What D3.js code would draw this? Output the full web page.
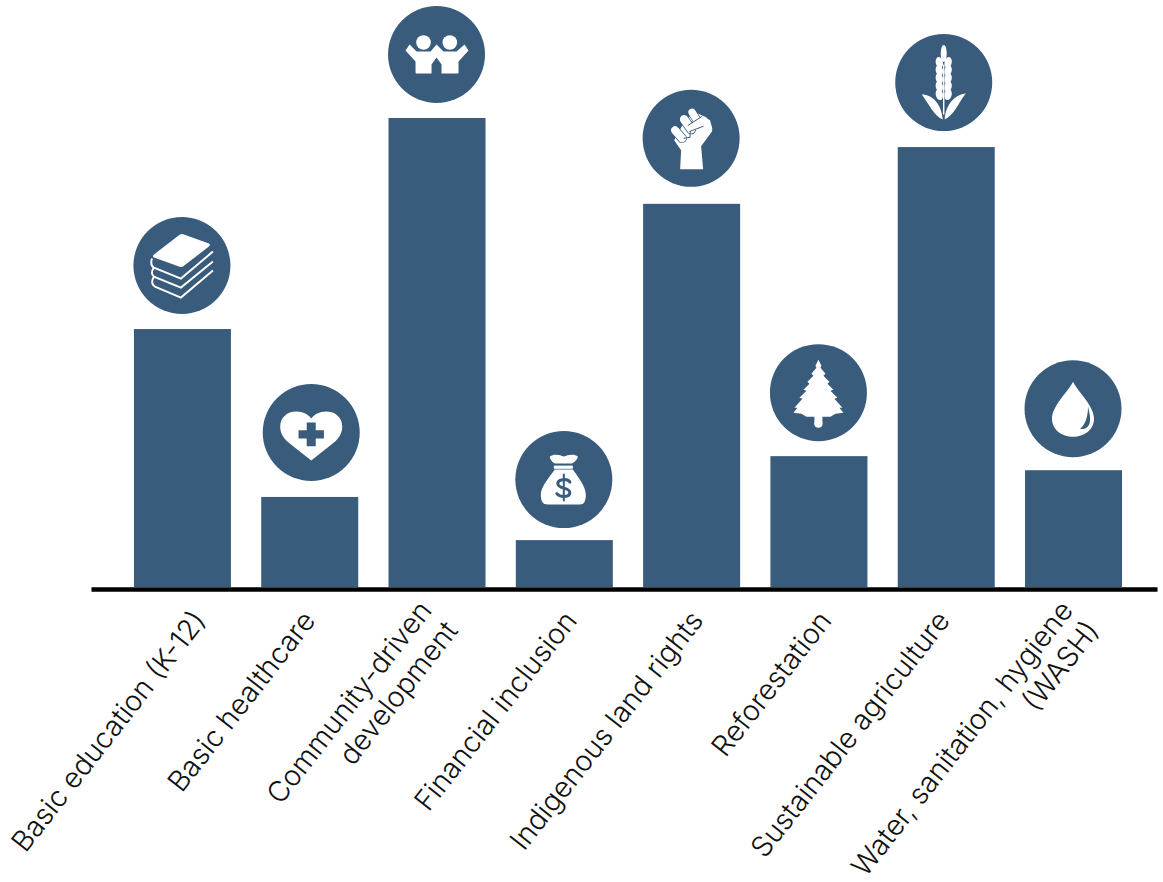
<!DOCTYPE html>
<html>
<head>
<meta charset="utf-8">
<script src="https://cdn.jsdelivr.net/npm/d3@7"></script>
<style>
  html, body { margin: 0; background: #fff; }
  svg { display: block; }
</style>
</head>
<body>
<svg id="chart" width="1163" height="882"></svg>
<script>
const categories = [
  "Basic education (K-12)",
  "Basic healthcare",
  "Community-driven development",
  "Financial inclusion",
  "Indigenous land rights",
  "Reforestation",
  "Sustainable agriculture",
  "Water, sanitation, hygiene (WASH)",
];
// no value axis in the source, so values are relative to the tallest bar
const values = [55, 19.2, 100, 10, 81.7, 27.9, 93.8, 24.9];
const iconNames = ["books", "heart", "people", "money", "fist", "tree", "wheat", "drop"];
const labelLines = [
  ["Basic education (K-12)"],
  ["Basic healthcare"],
  ["Community-driven", "development"],
  ["Financial inclusion"],
  ["Indigenous land rights"],
  ["Reforestation"],
  ["Sustainable agriculture"],
  ["Water, sanitation, hygiene", "(WASH)"],
];

const barColor = "#395c7c";
const iconRadius = 48.5;
const iconGaps = { books: 15, heart: 16, people: 15, money: 12, fist: 17, tree: 15, wheat: 16, drop: 13 };
const iconNudge = { books: -0.5, heart: 1.5, people: -0.5, money: -0.5, fist: -0.5, tree: -0.5, wheat: -2.5, drop: -0.5 };
const labelNudge = [25, 7, 9, 14, 13, 14, 5, 14];
const labelAngle = -52;
const labelSize = 28.5;
const lineHeight = 33;

const svg = d3.select("#chart");

const x = d3.scaleBand()
  .domain(categories)
  .range([91, 1157])
  .paddingInner(0.238)
  .paddingOuter(0.306)
  .align(0.551);

const y = d3.scaleLinear().domain([0, 100]).range([587, 118]);

const rows = categories.map((category, i) => ({
  category,
  value: values[i],
  icon: iconNames[i],
  lines: labelLines[i],
  nudge: labelNudge[i],
}));

svg.append("g")
  .selectAll("rect")
  .data(rows)
  .join("rect")
  .attr("x", (d) => x(d.category))
  .attr("y", (d) => y(d.value))
  .attr("width", x.bandwidth())
  .attr("height", (d) => y(0) - y(d.value))
  .attr("fill", barColor);

// axis
const axis = svg.append("g")
  .attr("transform", `translate(0,${y(0) + 2})`)
  .call(d3.axisBottom(x).tickSize(0).tickPadding(0));

axis.select(".domain").attr("stroke", "#000").attr("stroke-width", 4.5);

axis.selectAll(".tick text").each(function (category) {
  const row = rows.find((d) => d.category === category);
  const shift = (row.lines.length - 1) * lineHeight / 2;
  const label = d3.select(this)
    .text(null)
    .attr("text-anchor", "end")
    .attr("fill", "#111")
    .attr("font-family", "Inter, 'Noto Sans', sans-serif")
    .attr("font-weight", 300)
    .attr("font-size", labelSize)
    .attr("dy", null)
    .attr("y", null)
    .attr("transform", `translate(${row.nudge},32) rotate(${labelAngle})`);
  label.selectAll("tspan")
    .data(row.lines)
    .join("tspan")
    .attr("x", 0)
    .attr("y", (_, i) => i * lineHeight - shift)
    .text((d) => d);
});

// icons are drawn around the circle centre
function whitePath(g, d) {
  return g.append("path").attr("d", d).attr("fill", "#fff");
}
function bluePath(g, d, width) {
  return g.append("path").attr("d", d)
    .attr("fill", "none")
    .attr("stroke", barColor)
    .attr("stroke-width", width)
    .attr("stroke-linecap", "round");
}
function finger(g, d, width) {
  bluePath(g, d, width + 1.4);
  bluePath(g, d, width).attr("stroke", "#fff");
}

const drawIcon = {
  books(g) {
    g.append("path")
      .attr("d", "M-2,-31 Q0,-32 2,-31 L27,-22 Q29,-21 27,-19 L1,1 Q-1,2 -3,1 L-28,-8 Q-30,-9 -28,-11 Z")
      .attr("fill", "#fff");
    g.append("path")
      .attr("d", "M31,-14 L-1,13 L-28,2 Q-32,0 -30,-7 M31,-4 L-1,22 L-28,11 Q-32,8 -28,2 M31,5 L-1,32 L-27,21 Q-32,18 -28,11")
      .attr("fill", "none")
      .attr("stroke", "#fff")
      .attr("stroke-width", 1.9);
  },
  heart(g) {
    whitePath(g, "M0,28 L-24,9 C-30,3 -31,-2 -31,-6 C-31,-15 -24,-21 -15,-21 C-8,-21 -3,-18 0,-14 C3,-18 8,-21 15,-21 C24,-21 31,-15 31,-6 C31,-2 30,3 24,9 Z");
    g.append("path")
      .attr("d", "M-4.5,-10 H4.5 V-2.3 H12.7 V6 H4.5 V13.7 H-4.5 V6 H-12.7 V-2.3 H-4.5 Z")
      .attr("fill", barColor);
  },
  people(g) {
    g.append("circle").attr("cx", -13).attr("cy", -12).attr("r", 7.3).attr("fill", "#fff");
    g.append("circle").attr("cx", 13.3).attr("cy", -12).attr("r", 7.3).attr("fill", "#fff");
    whitePath(g, "M-31,-4 L-27,-10 L-20,-3 H-6 L0,-10 L7,-3 H20 L28,-10 L32,-4 L22,7 V18 Q22,19 21,19 H5 V10 L0,3 L-5,10 V19 H-20 Q-21,19 -21,18 V7 Z");
  },
  money(g) {
    whitePath(g, "M-14,-23 C-10,-26 -4,-25 0,-23 C4,-25 11,-26 14,-23 C14,-20 10,-17 8,-16 H-9 C-11,-17 -14,-20 -14,-23 Z");
    g.append("rect").attr("x", -10).attr("y", -14).attr("width", 19).attr("height", 3.2).attr("fill", "#fff");
    whitePath(g, "M-9,-10 H9 C14,-3 22,7 22,15 C22,22 20,25 16,25 H-16 C-21,25 -23,22 -23,15 C-23,7 -14,-3 -9,-10 Z");
    bluePath(g, "M6,2.5 C4,-1 -6,-1 -6,4 C-6,10 6,7 6,13 C6,18 -4,18 -7,14", 3);
    bluePath(g, "M0,-5 V21", 2);
  },
  fist(g) {
    whitePath(g, "M-11,31 L-10,12 L-17,2 L-6,-18 L4,-26 L15,-21 Q22,-14 21,-7 L10,8 L12,31 Z");
    finger(g, "M-16,-8 L-9,0", 8);
    finger(g, "M-7,-19 L0,-9", 8.5);
    finger(g, "M1,-26 L7,-16", 7.5);
    whitePath(g, "M-3,-13 L11,-22 L19,-18 L21,-8 L12,-12 L-1,-6 Z");
    bluePath(g, "M-3,-13 L11,-22 M-1,-7 L12,-12 M-7,0 L-1,-1 L-1,-7", 1);
  },
  tree(g) {
    const half = [[0, -33], [3, -27], [2, -25], [7, -19], [5, -17], [11, -11], [9, -9], [15, -3], [12, -2], [19, 5], [16, 6], [24, 15], [21, 15], [25, 20], [17, 21], [12, 24], [4, 24], [4, 32]];
    const outline = half.concat(half.slice(1).reverse().map(([a, b]) => [-a, b]));
    whitePath(g, d3.line()(outline) + "Z");
    g.append("circle").attr("cy", 31).attr("r", 4).attr("fill", "#fff");
  },
  wheat(g) {
    g.append("ellipse").attr("cy", -29).attr("rx", 3).attr("ry", 8.5).attr("fill", "#fff");
    [-20, -12, -4, 4, 12].forEach((cy) => {
      [-4.4, 4.4].forEach((cx) => {
        g.append("ellipse")
          .attr("cx", cx).attr("cy", cy)
          .attr("rx", 3.6).attr("ry", 5.6)
          .attr("transform", `rotate(${cx < 0 ? -12 : 12} ${cx} ${cy})`)
          .attr("fill", "#fff");
      });
    });
    whitePath(g, "M-22,12 C-11,12 -2,22 -1,37 C-10,33 -15,21 -22,12 Z");
    whitePath(g, "M22,11 C11,12 2,22 1,37 C10,33 15,20 22,11 Z");
    g.append("rect").attr("x", -0.7).attr("y", -18).attr("width", 1.4).attr("height", 50).attr("fill", "#fff");
  },
  drop(g) {
    whitePath(g, "M0,-27 C5,-17 21,-3 21,10 C21,21 11,28 0,28 C-11,28 -21,21 -21,10 C-21,-3 -5,-17 0,-27 Z");
    g.append("path")
      .attr("d", "M15,-2 C17,6 18,12 16,16 C14,20 10,21 7,20 C11,17 15,10 15,-2 Z")
      .attr("fill", barColor);
  },
};

const icons = svg.append("g")
  .selectAll("g")
  .data(rows)
  .join("g")
  .attr("transform", (d) => {
    const cx = x(d.category) + x.bandwidth() / 2 + iconNudge[d.icon];
    return `translate(${cx},${y(d.value) - iconGaps[d.icon] - iconRadius})`;
  });

icons.append("circle").attr("r", iconRadius).attr("fill", barColor);
icons.each(function (d) {
  drawIcon[d.icon](d3.select(this));
});
</script>
</body>
</html>
